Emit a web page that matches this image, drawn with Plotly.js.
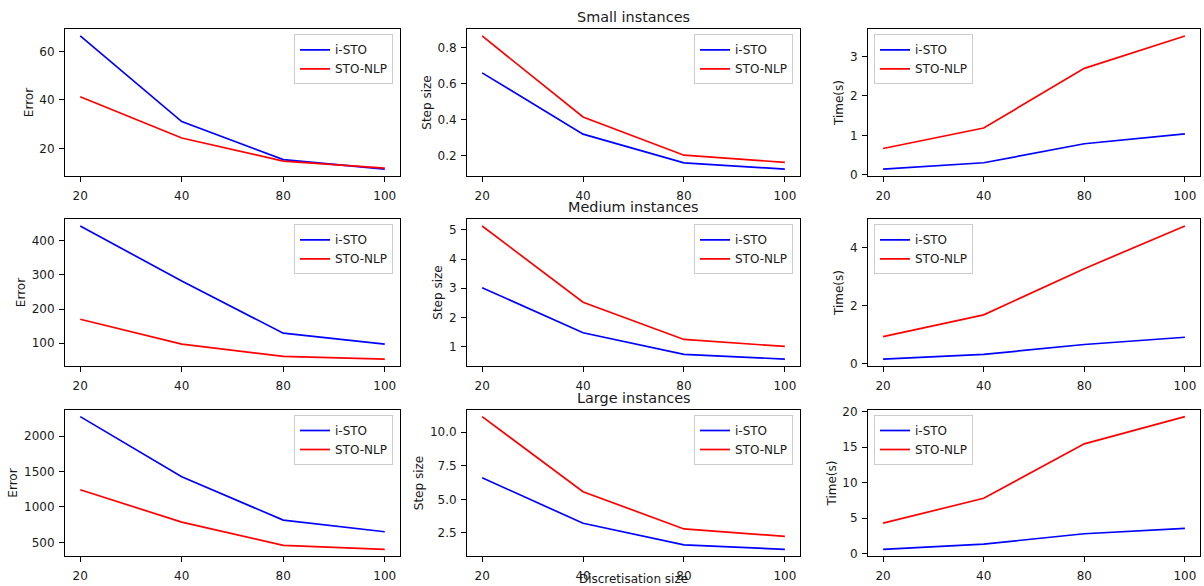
<!DOCTYPE html>
<html>
<head>
<meta charset="utf-8">
<script src="https://cdn.plot.ly/plotly-3.0.1.min.js"></script>
<style>html,body{margin:0;padding:0;background:#fff;}#chart{width:1204px;height:586px;}</style>
</head>
<body>
<div id="chart"></div>
<script>
// ---- data ----
const xCats = ['20', '40', '80', '100'];
const seriesNames = ['i-STO', 'STO-NLP'];
const rowTitles = ['Small instances', 'Medium instances', 'Large instances'];
const colYLabels = ['Error', 'Step size', 'Time(s)'];
const xLabel = 'Discretisation size';

const smallErrIsto = [66.4, 31.1, 15.4, 11.5];
const smallErrNlp = [41.3, 24.3, 14.8, 11.9];
const smallStepIsto = [0.66, 0.32, 0.16, 0.126];
const smallStepNlp = [0.865, 0.415, 0.203, 0.163];
const smallTimeIsto = [0.15, 0.31, 0.79, 1.04];
const smallTimeNlp = [0.67, 1.19, 2.70, 3.52];

const medErrIsto = [444, 282, 129, 97];
const medErrNlp = [170, 97, 61, 53];
const medStepIsto = [3.02, 1.48, 0.74, 0.58];
const medStepNlp = [5.13, 2.52, 1.25, 1.01];
const medTimeIsto = [0.16, 0.32, 0.66, 0.91];
const medTimeNlp = [0.93, 1.68, 3.27, 4.74];

const largeErrIsto = [2277, 1426, 814, 650];
const largeErrNlp = [1243, 786, 457, 401];
const largeStepIsto = [6.61, 3.22, 1.61, 1.28];
const largeStepNlp = [11.16, 5.57, 2.80, 2.25];
const largeTimeIsto = [0.6, 1.35, 2.8, 3.55];
const largeTimeNlp = [4.29, 7.8, 15.47, 19.3];

// tick values per panel
const ticksSmallErr = [20, 40, 60];
const ticksSmallStep = [0.2, 0.4, 0.6, 0.8];
const ticksSmallTime = [0, 1, 2, 3];
const ticksMedErr = [100, 200, 300, 400];
const ticksMedStep = [1, 2, 3, 4, 5];
const ticksMedTime = [0, 2, 4];
const ticksLargeErr = [500, 1000, 1500, 2000];
const ticksLargeStep = [2.5, 5.0, 7.5, 10.0];
const ticksLargeTime = [0, 5, 10, 15, 20];

const panels = [
  [smallErrIsto, smallErrNlp, ticksSmallErr, ''],
  [smallStepIsto, smallStepNlp, ticksSmallStep, '.1f'],
  [smallTimeIsto, smallTimeNlp, ticksSmallTime, ''],
  [medErrIsto, medErrNlp, ticksMedErr, ''],
  [medStepIsto, medStepNlp, ticksMedStep, ''],
  [medTimeIsto, medTimeNlp, ticksMedTime, ''],
  [largeErrIsto, largeErrNlp, ticksLargeErr, ''],
  [largeStepIsto, largeStepNlp, ticksLargeStep, '.1f'],
  [largeTimeIsto, largeTimeNlp, ticksLargeTime, '']
];

// ---- styling / layout ----
const W = 1204, H = 586;
const colDom = [[65, 400], [467, 800], [868, 1200]];
const rowDom = [[29.3, 175.7], [219.3, 365.7], [410, 556]];
const colors = ['#0000ff', '#ff0000'];
const font = {family: 'DejaVu Sans, sans-serif', size: 12, color: '#1a1a1a'};

function padRange(a, b) {
  const all = a.concat(b);
  const mn = Math.min(...all), mx = Math.max(...all);
  const s = mx - mn;
  return [mn - 0.05 * s, mx + 0.05 * s];
}

const data = [];
const layout = {
  width: W, height: H,
  margin: {l: 0, r: 0, t: 0, b: 0},
  paper_bgcolor: '#fff', plot_bgcolor: '#fff',
  font: font,
  showlegend: true,
  annotations: []
};

panels.forEach((p, i) => {
  const r = Math.floor(i / 3), c = i % 3, k = i + 1;
  const sfx = k === 1 ? '' : String(k);
  const legName = 'legend' + sfx;
  [p[0], p[1]].forEach((ys, j) => {
    data.push({
      type: 'scatter', mode: 'lines',
      x: xCats, y: ys,
      name: seriesNames[j],
      line: {color: colors[j], width: 1.7},
      xaxis: 'x' + sfx, yaxis: 'y' + sfx,
      legend: legName,
      showlegend: true
    });
  });
  const xd = colDom[c], yd = rowDom[r];
  layout['xaxis' + sfx] = {
    domain: [xd[0] / W, xd[1] / W],
    anchor: 'y' + sfx,
    type: 'category',
    categoryorder: 'array', categoryarray: xCats,
    range: [-0.15, 3.15],
    showline: true, mirror: true, linecolor: '#000', linewidth: 1,
    ticks: 'outside', ticklen: 5, tickcolor: '#000', tickwidth: 1,
    showgrid: false, zeroline: false,
    tickfont: font,
    ticklabelstandoff: 4,
    title: (r === 2 && c === 1) ? {text: xLabel, font: font, standoff: 0} : {text: ''}
  };
  layout['yaxis' + sfx] = {
    domain: [1 - yd[1] / H, 1 - yd[0] / H],
    anchor: 'x' + sfx,
    range: padRange(p[0], p[1]),
    tickmode: 'array', tickvals: p[2],
    tickformat: p[3],
    showline: true, mirror: true, linecolor: '#000', linewidth: 1,
    ticks: 'outside', ticklen: 5, tickcolor: '#000', tickwidth: 1,
    showgrid: false, zeroline: false,
    tickfont: font,
    ticklabelstandoff: 2,
    title: {text: colYLabels[c], font: font, standoff: 3}
  };
  const upperLeft = (c === 2);
  layout[legName] = {
    x: upperLeft ? (xd[0] + 6) / W : (xd[1] - 7) / W,
    xanchor: upperLeft ? 'left' : 'right',
    y: 1 - (yd[0] + 5) / H,
    yanchor: 'top',
    bgcolor: 'rgba(255,255,255,0.8)',
    bordercolor: '#cccccc', borderwidth: 1,
    font: font,
    itemwidth: 30,
    tracegroupgap: 0
  };
  if (c === 1) {
    layout.annotations.push({
      text: rowTitles[r],
      xref: 'x' + sfx + ' domain', yref: 'y' + sfx + ' domain',
      x: 0.5, y: 1, xanchor: 'center', yanchor: 'bottom', yshift: 2,
      showarrow: false,
      font: {family: 'DejaVu Sans, sans-serif', size: 14.4, color: '#1a1a1a'}
    });
  }
});

Plotly.newPlot('chart', data, layout, {staticPlot: true, displayModeBar: false});
</script>
</body>
</html>
